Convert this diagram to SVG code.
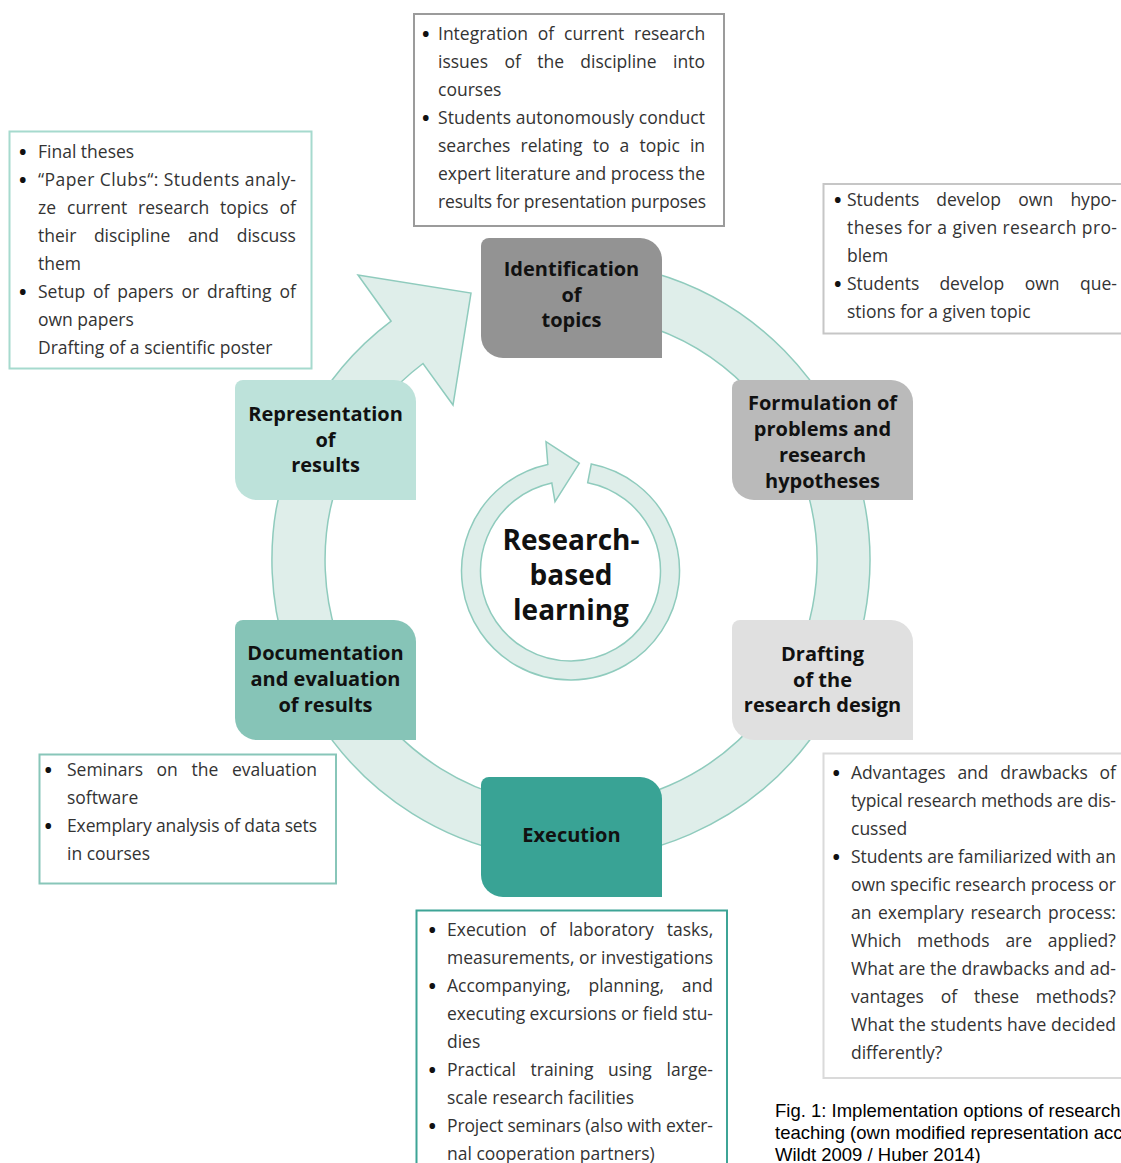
<svg xmlns="http://www.w3.org/2000/svg" width="1121" height="1163" viewBox="0 0 1121 1163">
<style>
.body{font-family:"Open Sans","Noto Sans",sans-serif;font-size:17.5px;fill:#333}
.bul{font-family:"Open Sans","Noto Sans",sans-serif;font-size:20px;font-weight:700;fill:#111}
.lbl{font-family:"Open Sans","Noto Sans",sans-serif;font-weight:700;font-size:20px;fill:#111;text-anchor:middle}
.title{font-family:"Open Sans","Noto Sans",sans-serif;font-weight:700;font-size:28px;fill:#111;text-anchor:middle}
.cap{font-family:"Liberation Sans",Arial,sans-serif;font-size:18.5px;fill:#000}
.ring{fill:#dfeeea;stroke:#8fcbbd;stroke-width:1.5}
.box{fill:#fff;stroke-width:2}
</style>
<rect width="1121" height="1163" fill="#fff"/>

<g id="connectors">
<path class="ring" d="M519.1 265.6 A299 299 0 1 1 391.1 321.2 L358 275 L471 293 L453 405 L423 363.5 A246 246 0 1 0 528.3 317.7 Z"/>
</g>

<g id="node-center">
<path class="ring" stroke="#a5d6ca" d="M591.3 464.0 A109 109 0 1 1 547.8 464.4 L546 441.7 L579.3 463.3 L555 501.7 L551.8 483.0 A90 90 0 1 0 587.7 482.7 Z"/>
<text class="title" x="571" y="550">Research-</text>
<text class="title" x="571" y="585">based</text>
<text class="title" x="571" y="620">learning</text>
</g>

<g id="node-identification">
<path fill="#939393" d="M489 238 H640 A22 22 0 0 1 662 260 V358 H503 A22 22 0 0 1 481 336 V246 A8 8 0 0 1 489 238 Z"/>
<text class="lbl" x="571.5" y="276">Identification</text>
<text class="lbl" x="571.5" y="302">of</text>
<text class="lbl" x="571.5" y="327">topics</text>
</g>

<g id="node-formulation">
<path fill="#bababa" d="M740 380 H891 A22 22 0 0 1 913 402 V500 H754 A22 22 0 0 1 732 478 V388 A8 8 0 0 1 740 380 Z"/>
<text class="lbl" x="822.5" y="410">Formulation of</text>
<text class="lbl" x="822.5" y="436">problems and</text>
<text class="lbl" x="822.5" y="462">research</text>
<text class="lbl" x="822.5" y="488">hypotheses</text>
</g>

<g id="node-drafting">
<path fill="#e0e0e0" d="M740 620 H891 A22 22 0 0 1 913 642 V740 H754 A22 22 0 0 1 732 718 V628 A8 8 0 0 1 740 620 Z"/>
<text class="lbl" x="822.5" y="661">Drafting</text>
<text class="lbl" x="822.5" y="687">of the</text>
<text class="lbl" x="822.5" y="712">research design</text>
</g>

<g id="node-execution">
<path fill="#39a395" d="M489 777 H640 A22 22 0 0 1 662 799 V897 H503 A22 22 0 0 1 481 875 V785 A8 8 0 0 1 489 777 Z"/>
<text class="lbl" x="571.5" y="842">Execution</text>
</g>

<g id="node-documentation">
<path fill="#86c4b7" d="M243 620 H394 A22 22 0 0 1 416 642 V740 H257 A22 22 0 0 1 235 718 V628 A8 8 0 0 1 243 620 Z"/>
<text class="lbl" x="325.5" y="660">Documentation</text>
<text class="lbl" x="325.5" y="686">and evaluation</text>
<text class="lbl" x="325.5" y="712">of results</text>
</g>

<g id="node-representation">
<path fill="#bde2da" d="M243 380 H394 A22 22 0 0 1 416 402 V500 H257 A22 22 0 0 1 235 478 V388 A8 8 0 0 1 243 380 Z"/>
<text class="lbl" x="325.5" y="421">Representation</text>
<text class="lbl" x="325.5" y="446.5">of</text>
<text class="lbl" x="325.5" y="472">results</text>
</g>

<g id="box-top">
<rect class="box" stroke="#9b9b9b" x="414" y="14" width="310" height="212"/>
<text class="bul" x="422" y="40.5">•</text>
<text class="body" y="40"><tspan x="438">Integration</tspan><tspan x="537.8">of</tspan><tspan x="564.1">current</tspan><tspan x="634">research</tspan></text>
<text class="body" y="68"><tspan x="438">issues</tspan><tspan x="504.4">of</tspan><tspan x="537.2">the</tspan><tspan x="580.3">discipline</tspan><tspan x="673">into</tspan></text>
<text class="body" x="438" y="96">courses</text>
<text class="bul" x="422" y="124.5">•</text>
<text class="body" x="438" y="124" textLength="267">Students autonomously conduct</text>
<text class="body" y="152"><tspan x="438">searches</tspan><tspan x="520.5">relating</tspan><tspan x="592.8">to</tspan><tspan x="619.6">a</tspan><tspan x="639.5">topic</tspan><tspan x="689.9">in</tspan></text>
<text class="body" x="438" y="180" textLength="267">expert literature and process the</text>
<text class="body" x="438" y="208" textLength="268">results for presentation purposes</text>
</g>

<g id="box-left">
<rect class="box" stroke="#a6dace" x="9.5" y="131.5" width="302" height="237"/>
<text class="bul" x="19" y="158.5">•</text>
<text class="body" x="38" y="158">Final theses</text>
<text class="bul" x="19" y="186.5">•</text>
<text class="body" x="38" y="186" textLength="258">“Paper Clubs“: Students analy-</text>
<text class="body" y="214"><tspan x="38">ze</tspan><tspan x="67.1">current</tspan><tspan x="138.1">research</tspan><tspan x="220.1">topics</tspan><tspan x="279.6">of</tspan></text>
<text class="body" y="242"><tspan x="38">their</tspan><tspan x="93.9">discipline</tspan><tspan x="187.9">and</tspan><tspan x="236.7">discuss</tspan></text>
<text class="body" x="38" y="270">them</text>
<text class="bul" x="19" y="298.5">•</text>
<text class="body" y="298"><tspan x="38">Setup</tspan><tspan x="92.9">of</tspan><tspan x="117.2">papers</tspan><tspan x="181.6">or</tspan><tspan x="207.1">drafting</tspan><tspan x="279.4">of</tspan></text>
<text class="body" x="38" y="326">own papers</text>
<text class="body" x="38" y="354">Drafting of a scientific poster</text>
</g>

<g id="box-right-top">
<rect class="box" stroke="#c6c6c6" x="823.5" y="184" width="310" height="149.5"/>
<text class="bul" x="834" y="206.5">•</text>
<text class="body" y="206"><tspan x="847">Students</tspan><tspan x="936.2">develop</tspan><tspan x="1018.3">own</tspan><tspan x="1070.4">hypo-</tspan></text>
<text class="body" x="847" y="234" textLength="270">theses for a given research pro-</text>
<text class="body" x="847" y="262">blem</text>
<text class="bul" x="834" y="290.5">•</text>
<text class="body" y="290"><tspan x="847">Students</tspan><tspan x="939.4">develop</tspan><tspan x="1024.7">own</tspan><tspan x="1080">que-</tspan></text>
<text class="body" x="847" y="318">stions for a given topic</text>
</g>

<g id="box-right-bottom">
<rect class="box" stroke="#dadada" x="823.5" y="753.5" width="310" height="324.5"/>
<text class="bul" x="832.5" y="779.5">•</text>
<text class="body" y="779"><tspan x="851">Advantages</tspan><tspan x="957.4">and</tspan><tspan x="1000.3">drawbacks</tspan><tspan x="1099.5">of</tspan></text>
<text class="body" x="851" y="807" textLength="265">typical research methods are dis-</text>
<text class="body" x="851" y="835">cussed</text>
<text class="bul" x="832.5" y="863.5">•</text>
<text class="body" x="851" y="863" textLength="265">Students are familiarized with an</text>
<text class="body" x="851" y="891" textLength="265">own specific research process or</text>
<text class="body" y="919"><tspan x="851">an</tspan><tspan x="878">exemplary</tspan><tspan x="970.4">research</tspan><tspan x="1048">process:</tspan></text>
<text class="body" y="947"><tspan x="851">Which</tspan><tspan x="917">methods</tspan><tspan x="1005.4">are</tspan><tspan x="1047.8">applied?</tspan></text>
<text class="body" x="851" y="975" textLength="265">What are the drawbacks and ad-</text>
<text class="body" y="1003"><tspan x="851">vantages</tspan><tspan x="940.7">of</tspan><tspan x="974">these</tspan><tspan x="1035.8">methods?</tspan></text>
<text class="body" x="851" y="1031" textLength="265">What the students have decided</text>
<text class="body" x="851" y="1059">differently?</text>
</g>

<g id="box-bottom">
<rect class="box" stroke="#3da496" x="416.5" y="910.5" width="310.5" height="270"/>
<text class="bul" x="428.5" y="936.5">•</text>
<text class="body" y="936"><tspan x="447">Execution</tspan><tspan x="539.5">of</tspan><tspan x="568.9">laboratory</tspan><tspan x="666.8">tasks,</tspan></text>
<text class="body" x="447" y="964" textLength="266">measurements, or investigations</text>
<text class="bul" x="428.5" y="992.5">•</text>
<text class="body" y="992"><tspan x="447">Accompanying,</tspan><tspan x="588.5">planning,</tspan><tspan x="681.8">and</tspan></text>
<text class="body" x="447" y="1020" textLength="266">executing excursions or field stu-</text>
<text class="body" x="447" y="1048">dies</text>
<text class="bul" x="428.5" y="1076.5">•</text>
<text class="body" y="1076"><tspan x="447">Practical</tspan><tspan x="530.5">training</tspan><tspan x="608.1">using</tspan><tspan x="666.6">large-</tspan></text>
<text class="body" x="447" y="1104">scale research facilities</text>
<text class="bul" x="428.5" y="1132.5">•</text>
<text class="body" x="447" y="1132" textLength="266">Project seminars (also with exter-</text>
<text class="body" x="447" y="1160">nal cooperation partners)</text>
</g>

<g id="box-bottom-left">
<rect class="box" stroke="#88c6b9" x="39.5" y="754.5" width="296.5" height="129"/>
<text class="bul" x="44.5" y="776.5">•</text>
<text class="body" y="776"><tspan x="67">Seminars</tspan><tspan x="156.5">on</tspan><tspan x="191.5">the</tspan><tspan x="231.9">evaluation</tspan></text>
<text class="body" x="67" y="804">software</text>
<text class="bul" x="44.5" y="832.5">•</text>
<text class="body" x="67" y="832" textLength="250">Exemplary analysis of data sets</text>
<text class="body" x="67" y="860">in courses</text>
</g>

<g id="caption">
<text class="cap" x="775" y="1117">Fig. 1: Implementation options of research</text>
<text class="cap" x="775" y="1139">teaching (own modified representation acc</text>
<text class="cap" x="775" y="1161">Wildt 2009 / Huber 2014)</text>
</g>
</svg>
